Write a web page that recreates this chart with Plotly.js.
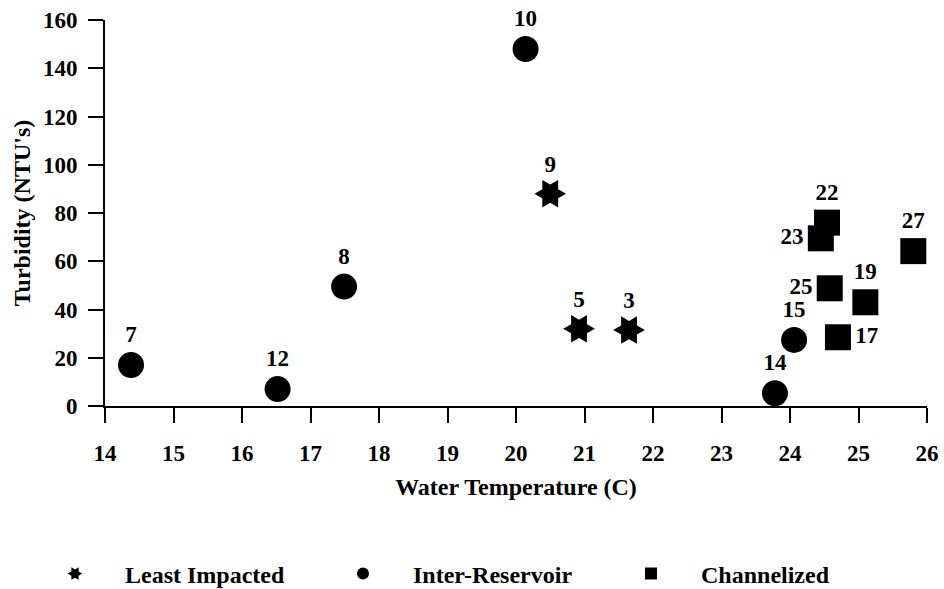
<!DOCTYPE html>
<html>
<head>
<meta charset="utf-8">
<script src="https://cdn.plot.ly/plotly-3.0.1.min.js"></script>
</head>
<body style="margin:0;background:#fff">
<div id="chart" style="width:944px;height:589px"></div>
<script>
// Least Impacted
const leastX = [20.50, 20.92, 21.65];
const leastY = [88, 32, 31.5];
const leastLabels = ["9", "5", "3"];

// Inter-Reservoir
const interX = [14.38, 16.52, 17.49, 20.14, 23.78, 24.06];
const interY = [17, 7, 49.5, 148, 5.3, 27.4];
const interLabels = ["7", "12", "8", "10", "14", "15"];

// Channelized
const chanX = [24.54, 24.45, 25.80, 24.58, 25.10, 24.70];
const chanY = [76, 69.5, 64.2, 48.8, 43, 28.5];
const chanLabels = ["22", "23", "27", "25", "19", "17"];
const chanTextPos = ["top center", "middle left", "top center", "middle left", "top center", "middle right"];

const seriesNames = ["Least Impacted", "Inter-Reservoir", "Channelized"];

const FONT = "Liberation Serif";
function f(size) { return {family: FONT, size: size, weight: "bold", color: "#000000"}; }

const traces = [
  {x: leastX, y: leastY, text: leastLabels, mode: "markers+text", type: "scatter",
   textposition: "top center", textfont: f(23), showlegend: false, cliponaxis: false,
   marker: {symbol: "hexagram", size: 24, color: "#000", angle: 90}},
  {x: interX, y: interY, text: interLabels, mode: "markers+text", type: "scatter",
   textposition: "top center", textfont: f(23), showlegend: false, cliponaxis: false,
   marker: {symbol: "circle", size: 26, color: "#000"}},
  {x: chanX, y: chanY, text: chanLabels, mode: "markers+text", type: "scatter",
   textposition: chanTextPos, textfont: f(23), showlegend: false, cliponaxis: false,
   marker: {symbol: "square", size: 26, color: "#000"}},
  // legend entries
  {x: [null], y: [null], name: seriesNames[0], mode: "markers", type: "scatter",
   marker: {symbol: "hexagram", size: 11, color: "#000", angle: 90}},
  {x: [null], y: [null], name: seriesNames[1], mode: "markers", type: "scatter",
   marker: {symbol: "circle", size: 12, color: "#000"}},
  {x: [null], y: [null], name: seriesNames[2], mode: "markers", type: "scatter",
   marker: {symbol: "square", size: 12, color: "#000"}}
];

const layout = {
  width: 944, height: 589,
  margin: {l: 105, r: 17, t: 20, b: 183, autoexpand: false},
  paper_bgcolor: "#fff", plot_bgcolor: "#fff",
  xaxis: {
    range: [14, 26], dtick: 1, tick0: 14,
    showgrid: false, zeroline: false,
    showline: true, linecolor: "#000", linewidth: 2,
    ticks: "outside", ticklen: 15, tickwidth: 2, tickcolor: "#000",
    tickfont: f(23), ticklabelstandoff: 10,
    title: {text: "Water Temperature (C)", font: f(24), standoff: 14}
  },
  yaxis: {
    range: [0, 160], dtick: 20, tick0: 0,
    showgrid: false, zeroline: false,
    showline: true, linecolor: "#000", linewidth: 2,
    ticks: "outside", ticklen: 15, tickwidth: 2, tickcolor: "#000",
    tickfont: f(23), ticklabelstandoff: 6,
    title: {text: "Turbidity (NTU's)", font: f(24), standoff: 6}
  },
  legend: {
    orientation: "h", xanchor: "left", yanchor: "middle",
    font: f(24),
    itemwidth: 90, entrywidth: 183, entrywidthmode: "pixels",
    bgcolor: "rgba(0,0,0,0)"
  },
  showlegend: true
};
// legend placed in paper coordinates (left edge ~25 px, center ~574 px)
layout.legend.y = (589 - 183 - 574) / (589 - 183 - 20);
layout.legend.x = (25 - 105) / (944 - 105 - 17);

Plotly.newPlot("chart", traces, layout, {displayModeBar: false, staticPlot: true});
</script>
</body>
</html>
